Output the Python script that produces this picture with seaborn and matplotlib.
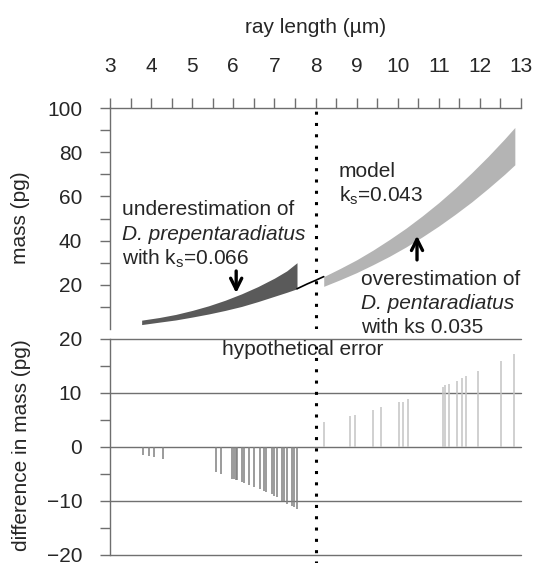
import numpy as np
import pandas as pd
import matplotlib
matplotlib.use("Agg")
import matplotlib.pyplot as plt
import seaborn as sns

# mass bands (pg) vs ray length (um)
left_x = [3.77, 4.2, 4.6, 5.0, 5.4, 5.8, 6.2, 6.6, 7.0, 7.3, 7.55]
left_low = [2.0, 3.1, 4.1, 5.4, 6.8, 8.4, 10.2, 12.4, 14.8, 16.6, 18.2]
left_high = [4.0, 5.2, 6.6, 8.4, 10.5, 13.0, 15.9, 19.2, 23.0, 26.3, 30.0]

right_x = [8.2, 8.6, 9.0, 9.4, 9.8, 10.2, 10.6, 11.0, 11.4, 11.8, 12.2, 12.6, 12.85]
right_low = [19.3, 22.3, 25.5, 29.1, 32.9, 37.1, 41.7, 46.6, 51.9, 57.5, 63.6, 70.0, 74.3]
right_high = [23.7, 27.4, 31.3, 35.7, 40.5, 45.6, 51.2, 57.2, 63.7, 70.7, 78.1, 86.0, 91.2]

model_x = [7.55, 7.8, 8.0, 8.2]
model_y = [18.2, 20.4, 22.0, 23.7]

# hypothetical error (pg)
err_neg_x = [3.81, 3.94, 4.06, 4.30, 5.57, 5.70, 5.98, 6.02, 6.06, 6.10, 6.20, 6.27, 6.37,
             6.51, 6.66, 6.74, 6.80, 6.94, 6.98, 7.07, 7.19, 7.23, 7.31, 7.42, 7.47, 7.54]
err_neg_y = [-1.54, -1.73, -1.91, -2.16, -4.69, -5.00, -5.86, -5.99, -6.11, -6.20, -6.48, -6.60, -6.98,
             -7.35, -7.78, -8.09, -8.33, -8.77, -9.00, -9.26, -9.94, -10.06, -10.49, -10.86, -11.10, -11.40]
err_pos_x = [8.21, 8.84, 8.95, 9.41, 9.60, 10.04, 10.12, 10.24, 11.11, 11.15, 11.26, 11.45,
             11.57, 11.65, 11.96, 12.52, 12.83]
err_pos_y = [4.6, 5.7, 6.0, 6.9, 7.4, 8.3, 8.4, 8.8, 11.2, 11.4, 11.7, 12.3,
             12.7, 13.1, 14.1, 16.0, 17.2]

x_ticks = list(range(3, 14))
mass_ticks = [20, 40, 60, 80, 100]
diff_ticks = [-20, -10, 0, 10, 20]

sns.set_theme(style="white")
plt.rcParams["font.family"] = ["Liberation Sans", "DejaVu Sans"]
plt.rcParams["mathtext.fontset"] = "custom"
plt.rcParams["mathtext.rm"] = "Liberation Sans"

FS = 15
SPINE = "#6e6e6e"

fig = plt.figure(figsize=(5.35, 5.63), dpi=100)
ax1 = fig.add_axes([110 / 535, 1 - 329 / 563, 411 / 535, 221 / 563])
ax2 = fig.add_axes([110 / 535, 1 - 555 / 563, 411 / 535, 216 / 563])

# ---- top panel
ax1.fill_between(left_x, left_low, left_high, color="#5a5a5a", lw=0)
ax1.fill_between(right_x, right_low, right_high, color="#b4b4b4", lw=0)
sns.lineplot(x=model_x, y=model_y, ax=ax1, color="black", lw=1.2)

ax1.set_xlim(3, 13)
ax1.set_ylim(0, 100)
for s in ["right", "bottom"]:
    ax1.spines[s].set_visible(False)
for s in ["top", "left"]:
    ax1.spines[s].set_color(SPINE)
    ax1.spines[s].set_linewidth(1)
ax1.xaxis.tick_top()
ax1.xaxis.set_label_position("top")
ax1.set_xticks(x_ticks)
ax1.set_xticks(np.arange(3.5, 13, 1), minor=True)
ax1.set_yticks(mass_ticks)
ax1.set_yticks([10, 30, 50, 70, 90], minor=True)
ax1.tick_params(axis="both", which="both", direction="out", length=7, width=1,
                color=SPINE, labelsize=FS, pad=13)
ax1.tick_params(axis="x", which="both", top=True, bottom=False, pad=16)
ax1.tick_params(axis="y", which="both", left=True)
ax1.set_xlabel("ray length (µm)", fontsize=FS, labelpad=17)

ax1.axvline(8, color="black", lw=2.2, ls=(0, (1, 2.7)), dash_capstyle="butt")

# annotations
ax1.text(3.29, 51.4, "underestimation of", fontsize=FS, va="baseline")
ax1.text(3.29, 40.3, "D. prepentaradiatus", fontsize=FS, va="baseline", style="italic")
ax1.text(3.29, 29.4, r"with k$_{\mathregular{s}}$=0.066", fontsize=FS, va="baseline")
ax1.text(8.57, 68.6, "model", fontsize=FS, va="baseline")
ax1.text(8.57, 57.7, r"k$_{\mathregular{s}}$=0.043", fontsize=FS, va="baseline")
ax1.text(9.11, 20.0, "overestimation of", fontsize=FS, va="baseline")
ax1.text(9.11, 9.1, "D. pentaradiatus", fontsize=FS, va="baseline", style="italic")
ax1.text(9.11, -1.8, "with ks 0.035", fontsize=FS, va="baseline")

arrow = dict(arrowstyle="->", lw=2.4, color="black", mutation_scale=20)
ax1.annotate("", xy=(6.07, 15.0), xytext=(6.07, 27.5), arrowprops=arrow)
ax1.annotate("", xy=(10.47, 43.5), xytext=(10.47, 30.0), arrowprops=arrow)

# ---- bottom panel
ax2.vlines(err_neg_x, 0, err_neg_y, color="#808080", lw=1.1)
ax2.vlines(err_pos_x, 0, err_pos_y, color="#c4c4c4", lw=1.1)
ax2.set_xlim(3, 13)
ax2.set_ylim(-20, 20)
for s in ["right", "bottom", "top"]:
    ax2.spines[s].set_visible(False)
ax2.spines["left"].set_color(SPINE)
ax2.spines["left"].set_linewidth(1)
ax2.set_xticks([])
ax2.set_yticks(diff_ticks)
ax2.set_yticks([-15, -5, 5, 15], minor=True)
for v in diff_ticks:
    ax2.axhline(v, color="#707070", lw=1, zorder=0, clip_on=False)
ax2.tick_params(axis="y", which="both", direction="out", length=7, width=1,
                color=SPINE, labelsize=FS, pad=13, left=True)
ax2.axvline(8, ymin=-0.04, ymax=1, color="black", lw=2.2, ls=(0, (1, 2.7)),
            dash_capstyle="butt", clip_on=False)
ax2.text(7.7, 17.0, "hypothetical error", fontsize=FS, ha="center", va="baseline")

fig.text(21 / 535, 1 - 218 / 563, "mass (pg)", rotation=90, fontsize=FS,
         ha="center", va="center")
fig.text(22 / 535, 1 - 445 / 563, "difference in mass (pg)", rotation=90, fontsize=FS,
         ha="center", va="center")

fig.savefig("out.png", dpi=100)
